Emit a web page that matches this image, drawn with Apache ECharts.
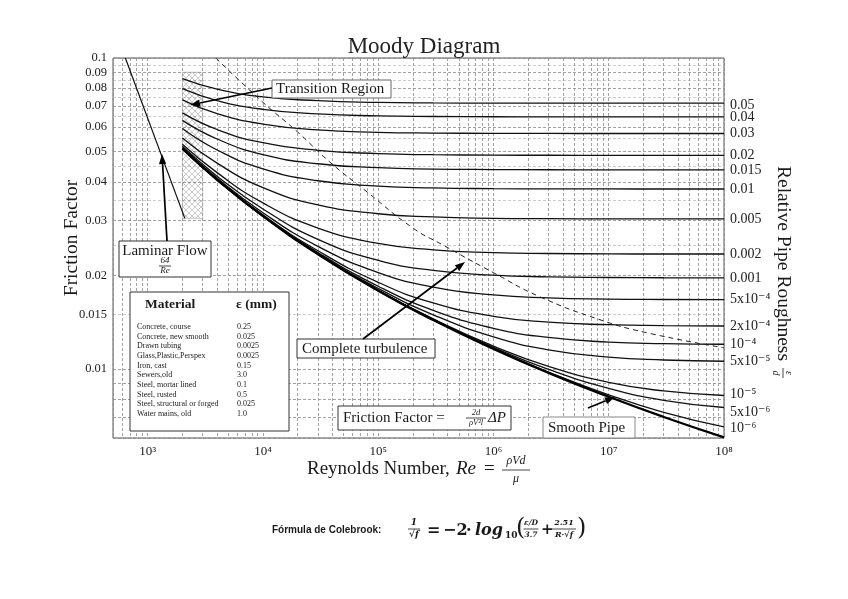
<!DOCTYPE html>
<html><head><meta charset="utf-8">
<script src="https://cdn.jsdelivr.net/npm/echarts@6/dist/echarts.min.js"></script>
<style>html,body{margin:0;padding:0;background:#fff}#c{width:848px;height:599px}</style>
</head><body><div id="c"></div>
<script>
// ---------------- data ----------------
const reynolds = [2000, 4000, 1e4, 3e4, 1e5, 3e5, 1e6, 3e6, 1e7, 3e7, 1e8];
const f_0_05  = [0.0858, 0.0794, 0.0750, 0.0729, 0.0720, 0.07172, 0.07161, 0.07157, 0.07156, 0.07155, 0.07155];
const f_0_04  = [0.0797, 0.0730, 0.0684, 0.0661, 0.06515, 0.06485, 0.06473, 0.06469, 0.06468, 0.06467, 0.06467];
const f_0_03  = [0.0733, 0.0662, 0.0613, 0.0587, 0.05770, 0.05737, 0.05724, 0.05720, 0.05718, 0.05718, 0.05717];
const f_0_02  = [0.0666, 0.0589, 0.0534, 0.0505, 0.04926, 0.04887, 0.04872, 0.04867, 0.04865, 0.04864, 0.04864];
const f_0_015 = [0.0630, 0.0549, 0.0489, 0.0457, 0.04439, 0.04395, 0.04378, 0.04372, 0.04370, 0.04369, 0.04369];
const f_0_01  = [0.0593, 0.0506, 0.0440, 0.0403, 0.03875, 0.03822, 0.03801, 0.03794, 0.03792, 0.03791, 0.03791];
const f_0_005 = [0.0553, 0.0459, 0.0383, 0.0337, 0.03156, 0.03082, 0.03052, 0.03043, 0.03039, 0.03038, 0.03037];
const f_0_002 = [0.0528, 0.0428, 0.0342, 0.0284, 0.02533, 0.02417, 0.02368, 0.02352, 0.02345, 0.02343, 0.02343];
const f_0_001 = [0.0520, 0.0417, 0.0327, 0.0261, 0.02234, 0.02075, 0.02003, 0.01979, 0.01969, 0.01965, 0.01964];
const f_5e_4  = [0.0515, 0.0411, 0.0318, 0.0248, 0.02042, 0.01833, 0.01730, 0.01693, 0.01678, 0.01673, 0.01671];
const f_2e_4  = [0.0513, 0.0408, 0.0313, 0.0240, 0.01900, 0.01631, 0.01477, 0.01415, 0.01388, 0.01379, 0.01375];
const f_1e_4  = [0.0512, 0.0407, 0.0311, 0.0237, 0.01845, 0.01544, 0.01351, 0.01263, 0.01221, 0.01207, 0.01201];
const f_5e_5  = [0.0511, 0.0406, 0.0311, 0.0235, 0.01816, 0.01494, 0.01269, 0.01153, 0.01092, 0.01069, 0.01059];
const f_1e_5  = [0.0511, 0.0406, 0.0310, 0.0234, 0.01792, 0.01449, 0.01185, 0.01020, 0.00906, 0.00850, 0.00822];
const f_5e_6  = [0.0511, 0.0406, 0.0310, 0.0234, 0.01789, 0.01443, 0.01173, 0.00997, 0.00866, 0.00793, 0.00752];
const f_1e_6  = [0.0511, 0.0406, 0.0310, 0.0234, 0.01786, 0.01439, 0.01163, 0.00978, 0.00826, 0.00725, 0.00651];
const f_smooth = [0.0511, 0.0406, 0.0310, 0.0234, 0.01786, 0.01437, 0.01161, 0.00972, 0.00814, 0.00701, 0.00603];

const roughnessLabels = ['0.05','0.04','0.03','0.02','0.015','0.01','0.005','0.002','0.001',
  '5x10⁻⁴','2x10⁻⁴','10⁻⁴','5x10⁻⁵','10⁻⁵','5x10⁻⁶','10⁻⁶'];

const laminarRe = [640, 2100];
const laminarF  = [0.1, 0.0305];
const transitionRe = [2000, 3000];
const transitionF  = [0.0305, 0.09];
const turbRe = [3900, 1e4, 2e4, 3.8e4, 8e4, 2e5, 3.6e5, 1e6, 2.5e6, 8.4e6, 2.1e7, 1e8];
const turbF  = [0.1, 0.072, 0.0578, 0.0463, 0.0371, 0.0284, 0.0251, 0.0204, 0.0171, 0.0144, 0.0131, 0.0117];

const xTickLabels = [1e3, 1e4, 1e5, 1e6, 1e7, 1e8];
const yTickLabels = [0.1, 0.09, 0.08, 0.07, 0.06, 0.05, 0.04, 0.03, 0.02, 0.015, 0.01];
const yGridMajor = [0.1, 0.09, 0.08, 0.07, 0.06, 0.05, 0.04, 0.03, 0.02, 0.01, 0.009, 0.008, 0.007, 0.006];
const yGridMinor = [0.095, 0.085, 0.075, 0.065, 0.055, 0.045, 0.035, 0.025, 0.015];

const materialNames = ['Concrete, course','Concrete, new smooth','Drawn tubing','Glass,Plastic,Perspex','Iron, cast',
  'Sewers,old','Steel, mortar lined','Steel, rusted','Steel, structural or forged','Water mains, old'];
const materialEps = ['0.25','0.025','0.0025','0.0025','0.15','3.0','0.1','0.5','0.025','1.0'];

// ---------------- build ----------------
const L = Math.log10;
const FONT = '"Liberation Serif", "DejaVu Serif", serif';
const SUP = {3:'³',4:'⁴',5:'⁵',6:'⁶',7:'⁷',8:'⁸'};
const xGrid = [];
for (let e = 2; e <= 7; e++) for (let k = 1; k <= 9; k++) { const v = k * Math.pow(10, e); if (v >= 500) xGrid.push(v); }
xGrid.push(1e8);

const roughCurves = [f_0_05, f_0_04, f_0_03, f_0_02, f_0_015, f_0_01, f_0_005, f_0_002, f_0_001,
  f_5e_4, f_2e_4, f_1e_4, f_5e_5, f_1e_5, f_5e_6, f_1e_6];
// small vertical nudges of the end labels so neighbouring ones do not touch
const labelNudge = {0: 2, 13: -1, 14: 5, 15: 1};

function pts(xs, ys) { return xs.map((x, i) => [L(x), L(ys[i])]); }

function hatch() {
  const c = document.createElement('canvas'); c.width = 6; c.height = 6;
  const g = c.getContext('2d');
  g.strokeStyle = 'rgba(0,0,0,0.3)'; g.lineWidth = 0.7;
  g.beginPath(); g.moveTo(0,0); g.lineTo(6,6); g.moveTo(6,0); g.lineTo(0,6); g.stroke();
  return c;
}

const series = [];
roughCurves.forEach((arr, i) => {
  series.push({
    type: 'line', data: pts(reynolds, arr), symbol: 'none', smooth: 0.5,
    silent: true, lineStyle: { color: '#111', width: 1.3 }, z: 5,
    endLabel: { show: true, formatter: roughnessLabels[i], distance: 6, color: '#222',
      fontFamily: FONT, fontSize: 14, offset: [0, labelNudge[i] || 0] }
  });
});
series.push({ type: 'line', data: pts(reynolds, f_smooth), symbol: 'none', smooth: 0.5,
  silent: true, lineStyle: { color: '#000', width: 2.3 }, z: 6 });
series.push({ type: 'line', data: pts(laminarRe, laminarF), symbol: 'none', silent: true,
  lineStyle: { color: '#111', width: 1.2 }, z: 5,
  markArea: { silent: true, itemStyle: { color: { image: hatch(), repeat: 'repeat' }, borderColor: '#aaa', borderWidth: 0.6 },
    data: [[{ coord: [L(transitionRe[0]), L(transitionF[1])] }, { coord: [L(transitionRe[1]), L(transitionF[0])] }]] } });
series.push({ type: 'line', data: pts(turbRe, turbF), symbol: 'none', smooth: 0.5, silent: true,
  lineStyle: { color: '#222', width: 1, type: [5, 4] }, z: 5 });

// ---------------- annotations ----------------
const G = [];
function txt(x, y, text, font, align, extra) {
  return Object.assign({ type: 'text', x, y, z: 101,
    style: { text, font, fill: '#1a1a1a', textAlign: align || 'left', textVerticalAlign: 'middle',
      align: align || 'left', verticalAlign: 'middle' } }, extra || {});
}
function rect(x, y, w, h, stroke) {
  return { type: 'rect', z: 100, shape: { x, y, width: w, height: h },
    style: { fill: '#fff', stroke: stroke || '#444', lineWidth: 1 } };
}
function hline(x1, x2, y, w) {
  return { type: 'line', z: 101, shape: { x1, y1: y, x2, y2: y }, style: { stroke: '#1a1a1a', lineWidth: w || 0.8 } };
}
function frac(cx, ly, num, den, font, w, gap) {
  gap = gap || 6;
  G.push(txt(cx, ly - gap, num, font, 'center'));
  G.push(hline(cx - w / 2, cx + w / 2, ly));
  G.push(txt(cx, ly + gap, den, font, 'center'));
}
function arrow(x1, y1, x2, y2) {
  const a = Math.atan2(y2 - y1, x2 - x1), len = 10, wd = 3.6;
  const bx = x2 - len * Math.cos(a), by = y2 - len * Math.sin(a);
  const px = -Math.sin(a) * wd, py = Math.cos(a) * wd;
  G.push({ type: 'line', z: 102, shape: { x1, y1, x2: bx, y2: by }, style: { stroke: '#000', lineWidth: 1.7 } });
  G.push({ type: 'polygon', z: 102, shape: { points: [[x2, y2], [bx + px, by + py], [bx - px, by - py]] }, style: { fill: '#000' } });
}
const F15 = '15px ' + FONT;

// Transition region
G.push(rect(272, 80, 119, 18, '#666'));
G.push(txt(276, 89.5, 'Transition Region', F15));
arrow(272, 88, 190, 105);

// Laminar flow
G.push(rect(119, 241, 92, 36, '#333'));
G.push(txt(165, 251, 'Laminar Flow', F15, 'center'));
frac(165, 266, '64', 'Re', 'italic 9px ' + FONT, 12, 5);
arrow(167, 241, 162, 154);

// Complete turbulence
G.push(rect(297, 339, 138, 19, '#333'));
G.push(txt(302, 349, 'Complete turbulence', F15));
arrow(363, 339, 465, 262);

// Friction factor
G.push(rect(338, 406, 173, 24, '#333'));
G.push(txt(343, 418, 'Friction Factor =', F15));
frac(476, 418, '2d', 'ρV²l', 'italic 8.5px ' + FONT, 20, 5);
G.push(txt(488, 418, 'ΔP', 'italic 15px ' + FONT));

// Smooth pipe
G.push(rect(543, 417, 92, 21, '#888'));
G.push(txt(548, 428, 'Smooth Pipe', F15));
arrow(588, 408, 615, 397);

// Material table
G.push(rect(130, 292, 159, 139, '#333'));
G.push(txt(145, 305, 'Material', 'bold 13.5px ' + FONT));
G.push(txt(236, 305, 'ε (mm)', 'bold 13.5px ' + FONT));
materialNames.forEach((n, i) => {
  G.push(txt(137, 327 + i * 9.67, n, '8px ' + FONT));
  G.push(txt(237, 327 + i * 9.67, materialEps[i], '8px ' + FONT));
});

// Axis titles
G.push(txt(72, 238, 'Friction Factor', '19.5px ' + FONT, 'center', { rotation: Math.PI / 2 }));
G.push({ type: 'group', x: 783, y: 166, rotation: -Math.PI / 2, children: [
  txt(0, 0, 'Relative Pipe Roughness', '19.5px ' + FONT, 'left'),
  txt(207, -6, 'ε', 'italic 10px ' + FONT, 'center'),
  { type: 'line', z: 101, shape: { x1: 202, y1: 0, x2: 212, y2: 0 }, style: { stroke: '#1a1a1a', lineWidth: 0.8 } },
  txt(207, 7, 'd', 'italic 10px ' + FONT, 'center')
] });
G.push(txt(307, 469, 'Reynolds Number,', '19px ' + FONT));
G.push(txt(456, 469, 'Re', 'italic 19px ' + FONT));
G.push(txt(484, 469, '=', '19px ' + FONT));
frac(516, 470, 'ρVd', 'μ', 'italic 12px ' + FONT, 28, 9);

// Colebrook formula
const BS = 'bold 10px "Liberation Sans", "Open Sans", sans-serif';
G.push(txt(272, 530, 'Fórmula de Colebrook:', BS));
const FM = '"DejaVu Serif", "Liberation Serif", serif';
frac(414, 529, '1', '√f', 'bold italic 9px ' + FM, 12, 6);
G.push(txt(427, 531, '=', 'bold 16px ' + FM));
G.push(txt(443, 531, '−2', 'bold 16px ' + FM));
G.push(txt(466, 531, '·', 'bold 16px ' + FM));
G.push(txt(475, 531, 'log', 'bold italic 16px ' + FM));
G.push(txt(505, 536, '10', 'bold 9px ' + FM));
G.push(txt(516, 529, '(', '24px ' + FM));
frac(531, 529, 'ε/D', '3.7', 'bold italic 7.5px ' + FM, 15, 6);
G.push(txt(541, 530, '+', 'bold 15px ' + FM));
frac(564, 529, '2.51', 'R·√f', 'bold italic 8px ' + FM, 24, 6);
G.push(txt(577, 529, ')', '24px ' + FM));

// ---------------- chart ----------------
const chart = echarts.init(document.getElementById('c'), null, { renderer: 'canvas' });
chart.setOption({
  animation: false,
  backgroundColor: '#fff',
  title: { text: 'Moody Diagram', left: 419, top: 30, textAlign: 'center',
    textStyle: { fontFamily: FONT, fontSize: 23, fontWeight: 'normal', color: '#222' } },
  grid: { left: 113, right: 124, top: 58, bottom: 161, show: true, borderColor: '#555', borderWidth: 1,
    outerBoundsMode: 'none', containLabel: false },
  xAxis: [{ type: 'value', min: L(500), max: 8,
    axisLine: { show: false },
    axisTick: { show: false, customValues: xGrid.map(L) },
    splitLine: { show: true, lineStyle: { color: '#8a8a8a', width: 0.8, type: [3, 2] } },
    axisLabel: { customValues: xTickLabels.map(L), formatter: v => '10' + SUP[Math.round(v)],
      fontFamily: FONT, fontSize: 13, color: '#222', margin: 7 } }],
  yAxis: [{ type: 'value', min: L(0.006), max: -1,
    axisLine: { show: false },
    axisTick: { show: false, customValues: yGridMajor.map(L) },
    splitLine: { show: true, lineStyle: { color: '#8a8a8a', width: 0.8, type: [3, 2] } },
    axisLabel: { customValues: yTickLabels.map(L),
      formatter: v => { const t = yTickLabels.find(t => Math.abs(L(t) - v) < 1e-6); return t === undefined ? '' : String(t); },
      fontFamily: FONT, fontSize: 12.5, color: '#222', margin: 6 } },
    { type: 'value', min: L(0.006), max: -1, position: 'left',
    axisLine: { show: false }, axisLabel: { show: false },
    axisTick: { show: false, customValues: yGridMinor.map(L) },
    splitLine: { show: true, lineStyle: { color: '#b8b8b8', width: 0.7, type: [3, 2] } } }],
  series: series,
  graphic: { elements: G }
});
</script>
</body></html>
